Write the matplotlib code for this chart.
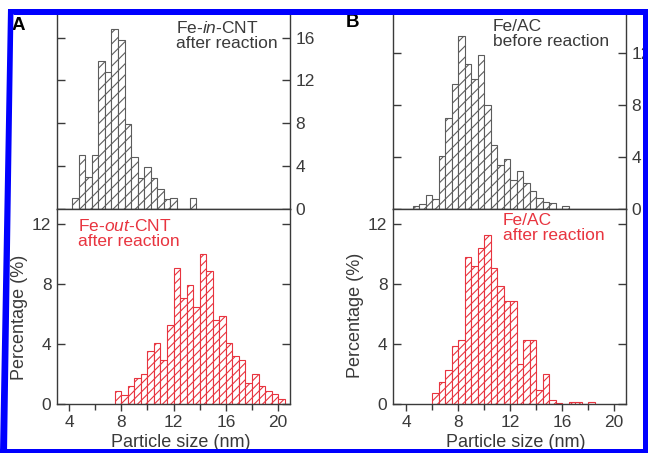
import matplotlib.pyplot as plt
from matplotlib.patches import Polygon

plt.rcParams['font.family'] = ['Liberation Sans', 'DejaVu Sans']
plt.rcParams['mathtext.fontset'] = 'custom'
plt.rcParams['mathtext.rm'] = 'Liberation Sans'
plt.rcParams['mathtext.it'] = 'Liberation Sans:italic'
plt.rcParams['hatch.linewidth'] = 0.8

# ---- data (bin centre in nm, percentage) ----
in_cnt_size = [4.5, 5.0, 5.5, 6.0, 6.5, 7.0, 7.5, 8.0, 8.5, 9.0, 9.5, 10.0,
               10.5, 11.0, 11.5, 12.0, 12.5, 13.0, 13.5]
in_cnt_pct = [1.0, 5.0, 3.0, 5.0, 13.8, 12.8, 16.8, 15.8, 7.9, 4.9, 2.9, 3.9,
              2.9, 1.9, 0.9, 1.0, 0.0, 0.0, 1.0]

out_cnt_size = [7.75, 8.25, 8.75, 9.25, 9.75, 10.25, 10.75, 11.25, 11.75, 12.25,
                12.75, 13.25, 13.75, 14.25, 14.75, 15.25, 15.75, 16.25, 16.75,
                17.25, 17.75, 18.25, 18.75, 19.25, 19.75, 20.25]
out_cnt_pct = [0.85, 0.6, 1.2, 1.75, 2.0, 3.55, 4.1, 2.95, 5.3, 9.1, 7.05, 7.95,
               6.5, 10.0, 8.85, 5.6, 5.9, 4.1, 3.2, 2.95, 1.4, 2.0, 1.2, 0.9,
               0.65, 0.35]

ac_before_size = [4.75, 5.25, 5.75, 6.25, 6.75, 7.25, 7.75, 8.25, 8.75, 9.25,
                  9.75, 10.25, 10.75, 11.25, 11.75, 12.25, 12.75, 13.25, 13.75,
                  14.25, 14.75, 15.25, 15.75, 16.25]
ac_before_pct = [0.2, 0.4, 1.1, 0.8, 4.1, 7.0, 9.6, 13.3, 11.1, 10.0, 11.8, 8.0,
                 4.9, 3.4, 3.8, 2.2, 2.9, 2.0, 1.4, 0.85, 0.5, 0.45, 0.0, 0.2]

ac_after_size = [6.25, 6.75, 7.25, 7.75, 8.25, 8.75, 9.25, 9.75, 10.25, 10.75,
                 11.25, 11.75, 12.25, 12.75, 13.25, 13.75, 14.25, 14.75, 15.25,
                 15.75, 16.25, 16.75, 17.25, 17.75, 18.25]
ac_after_pct = [0.75, 1.5, 2.3, 3.85, 4.3, 9.8, 9.2, 10.4, 11.3, 9.05, 7.9, 6.9,
                6.9, 2.7, 4.25, 4.25, 0.95, 2.0, 0.25, 0.1, 0.0, 0.15, 0.15, 0.0,
                0.15]

x_ticks = [4, 8, 12, 16, 20]
x_minor = [6, 10, 14, 18]

W, H = 648, 453
GREY = '#3a3a3a'
BAR_GREY = '#5c5c5c'
RED = '#e8343f'


def fx(px):
    return px / W


def fy(py):
    return 1 - py / H


fig = plt.figure(figsize=(W / 100, H / 100), dpi=100)

# panel geometry in pixels
panels = {
    'A': dict(l=57, r=290, xlim=(3.08, 20.91), top_ylim=18.3, top_ticks=[0, 4, 8, 12, 16]),
    'B': dict(l=393, r=626, xlim=(3.0, 20.92), top_ylim=15.04, top_ticks=[0, 4, 8, 12]),
}
top_y, mid_y, bot_y = 13, 209, 404

axes = {}
for name, p in panels.items():
    w = (p['r'] - p['l']) / W
    ax_t = fig.add_axes([fx(p['l']), fy(mid_y), w, (mid_y - top_y) / H])
    ax_b = fig.add_axes([fx(p['l']), fy(bot_y), w, (bot_y - mid_y) / H])
    axes[name] = (ax_t, ax_b)

    for ax in (ax_t, ax_b):
        ax.set_xlim(*p['xlim'])
        for s in ax.spines.values():
            s.set_color(GREY)
            s.set_linewidth(1.0)
    ax_t.spines['top'].set_visible(False)

    # top: labels on the right, no x ticks
    ax_t.set_ylim(0, p['top_ylim'])
    ax_t.set_yticks(p['top_ticks'])
    ax_t.tick_params(axis='y', direction='in', length=6, width=1, color=GREY,
                     left=True, right=True, labelleft=False, labelright=True,
                     labelsize=12.5, labelcolor=GREY, pad=4)
    ax_t.tick_params(axis='x', bottom=False, labelbottom=False)

    # bottom: labels on the left, x ticks outward
    ax_b.set_ylim(0, 13.0)
    ax_b.set_yticks([0, 4, 8, 12])
    ax_b.tick_params(axis='y', direction='in', length=6, width=1, color=GREY,
                     left=True, right=True, labelleft=True, labelright=False,
                     labelsize=12.5, labelcolor=GREY, pad=4)
    ax_b.set_xticks(x_ticks)
    ax_b.set_xticks(x_minor, minor=True)
    ax_b.tick_params(axis='x', which='major', direction='out', length=5, width=1,
                     color=GREY, labelsize=12.5, labelcolor=GREY, pad=3)
    ax_b.tick_params(axis='x', which='minor', direction='out', length=4, width=1,
                     color=GREY)

axA_t, axA_b = axes['A']
axB_t, axB_b = axes['B']

axA_t.bar(in_cnt_size, in_cnt_pct, width=0.5, color='white', edgecolor=BAR_GREY,
          linewidth=0.8, hatch='///')
axB_t.bar(ac_before_size, ac_before_pct, width=0.5, color='white', edgecolor=BAR_GREY,
          linewidth=0.8, hatch='///')
axA_b.bar(out_cnt_size, out_cnt_pct, width=0.5, color='white', edgecolor=RED,
          linewidth=0.8, hatch='////')
axB_b.bar(ac_after_size, ac_after_pct, width=0.5, color='white', edgecolor=RED,
          linewidth=0.8, hatch='////')

# sample labels
fig.text(fx(176), fy(20), 'Fe-$\\it{in}$-CNT\nafter reaction', fontsize=12.5,
         color=GREY, va='top', ha='left', linespacing=1.0)
fig.text(fx(78), fy(218), 'Fe-$\\it{out}$-CNT\nafter reaction', fontsize=12.5,
         color=RED, va='top', ha='left', linespacing=1.0)
fig.text(fx(493), fy(19), 'Fe/AC\nbefore reaction', fontsize=12.5,
         color=GREY, va='top', ha='left', linespacing=1.0)
fig.text(fx(503), fy(213), 'Fe/AC\nafter reaction', fontsize=12.5,
         color=RED, va='top', ha='left', linespacing=1.0)

# panel letters
fig.text(fx(12), fy(17), 'A', fontsize=13.5, fontweight='bold', color='black', va='top')
fig.text(fx(346), fy(14), 'B', fontsize=13.5, fontweight='bold', color='black', va='top')

# axis titles
for cx, ly in ((20, 317), (356, 315)):
    fig.text(fx(cx), fy(ly), 'Percentage (%)', fontsize=13, color=GREY,
             rotation=90, ha='center', va='center')
for cx in (181, 516):
    fig.text(fx(cx), fy(434), 'Particle size (nm)', fontsize=13, color=GREY,
             ha='center', va='top')

# blue frame of the scanned figure
BLUE = '#0000ff'
frame = [
    [(8, 9), (648, 9), (648, 14.5), (13.5, 14.5)],
    [(8, 9), (13.5, 9), (7, 453), (0, 453)],
    [(643, 9), (648, 9), (648, 453), (643, 453)],
    [(0, 449), (648, 449), (648, 453), (0, 453)],
]
for pts in frame:
    fig.add_artist(Polygon([(fx(a), fy(b)) for a, b in pts], closed=True,
                           transform=fig.transFigure, facecolor=BLUE,
                           edgecolor='none', zorder=10))

fig.savefig('out.png', dpi=100)
